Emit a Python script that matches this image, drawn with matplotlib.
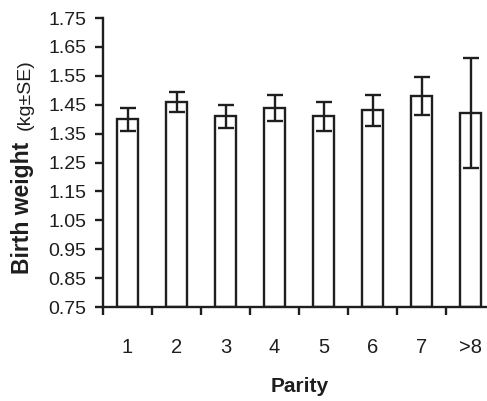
import numpy as np
import matplotlib.pyplot as plt
from matplotlib.ticker import FixedLocator, NullFormatter

plt.rcParams['font.family'] = ['Liberation Sans', 'DejaVu Sans']

parity = ['1', '2', '3', '4', '5', '6', '7', '>8']
weight = [1.40, 1.46, 1.41, 1.44, 1.41, 1.43, 1.48, 1.42]  # kg
se = [0.04, 0.035, 0.04, 0.045, 0.05, 0.053, 0.065, 0.19]
yticks = np.round(np.arange(0.75, 1.76, 0.10), 2)

ink = '#1e1e1e'
fig = plt.figure(figsize=[4.87, 4.01], dpi=100)
ax = fig.add_axes([103/487, 94/401, 392/487, 289/401])

x = np.arange(len(parity))
ax.bar(x, np.array(weight)-0.75, bottom=0.75, width=0.43, color='white',
       edgecolor=ink, linewidth=1.7, zorder=2)
ax.errorbar(x, weight, yerr=se, fmt='none', ecolor=ink, elinewidth=1.7,
            capsize=6, capthick=1.7, zorder=3)

ax.set_xlim(-0.5, len(parity)-0.5)
ax.set_ylim(0.75, 1.75)
ax.set_yticks(yticks)
ax.set_yticklabels(['%.2f' % v for v in yticks], fontsize=14)

# ticks between categories, labels at centres
ax.xaxis.set_major_locator(FixedLocator(np.arange(-0.5, len(parity), 1.0)))
ax.xaxis.set_major_formatter(NullFormatter())
ax.set_xticks(x, minor=True)
ax.set_xticklabels(parity, minor=True, fontsize=14.5)
ax.tick_params(axis='x', which='minor', length=0, pad=22, colors=ink)
ax.tick_params(axis='x', which='major', length=6, width=1.7, direction='out', colors=ink)
ax.tick_params(axis='y', length=6, width=1.7, direction='out', pad=6, colors=ink)

for s in ['top', 'right']:
    ax.spines[s].set_visible(False)
for s in ['left', 'bottom']:
    ax.spines[s].set_linewidth(1.7)
    ax.spines[s].set_color(ink)
ax.spines['left'].set_bounds(0.75, 1.75)

fig.text(300/487, 1-387/401, 'Parity', ha='center', va='center',
         fontsize=15, fontweight='bold', color=ink)
fig.text(23/487, 1-208/401, 'Birth weight', ha='center', va='center',
         rotation=90, fontsize=16.5, fontweight='bold', color=ink)
fig.text(25/487, 1-95/401, '(kg±SE)', ha='center', va='center',
         rotation=90, fontsize=14, color=ink)

fig.savefig('out.png', dpi=100)
